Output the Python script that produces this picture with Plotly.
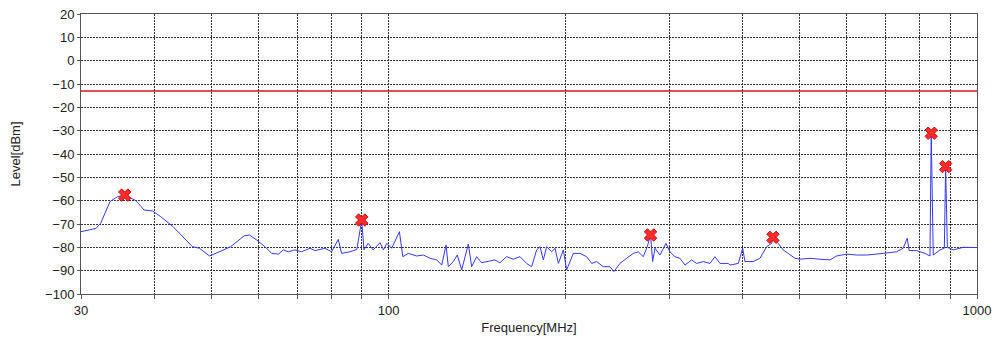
import plotly.graph_objects as go

# Spectrum trace (MHz, dBm)
freq_mhz = [30.0, 31.8, 32.4, 33.6, 34.6, 35.6, 37.2, 38.4, 39.7, 41.0, 43.0, 44.4, 46.4, 47.7, 49.6,
            51.9, 53.9, 56.8, 58.0, 59.7, 61.6, 63.3, 65.0, 66.2, 67.5, 69.3, 71.1, 73.5, 75.0, 77.9,
            80.0, 82.1, 83.2, 86.0, 88.3, 90.0, 90.8, 92.3, 94.1, 96.7, 98.0, 99.3, 101.2, 104.3, 105.7,
            108.0, 111.6, 114.6, 117.6, 120.7, 123.1, 125.2, 126.3, 128.8, 130.8, 133.1, 136.6, 138.4,
            141.1, 143.9, 147.7, 151.6, 154.6, 158.7, 162.8, 167.2, 171.6, 175.0, 178.5, 180.8, 183.2,
            185.6, 189.3, 191.8, 194.3, 198.1, 200.7, 206.0, 211.4, 217.0, 221.4, 225.7, 231.6, 237.8,
            241.5, 247.2, 253.8, 260.5, 265.6, 270.9, 275.2, 278.7, 281.0, 283.6, 289.2, 296.0, 300.7,
            306.6, 312.6, 318.9, 327.3, 333.8, 342.6, 351.7, 358.6, 365.7, 377.8, 380.4, 392.9, 399.7,
            403.3, 416.6, 427.7, 439.0, 447.7, 450.0, 459.3, 468.3, 477.6, 490.6, 500.0, 520.2, 540.9,
            562.5, 577.4, 600.3, 624.3, 649.3, 693.0, 730.0, 749.0, 761.0, 766.9, 789.5, 815.7, 831.9,
            836.0, 842.6, 865.3, 880.0, 884.5, 890.5, 911.5, 947.8, 1000.0]
level_dbm = [-73.3, -71.9, -69.7, -60.4, -58.3, -57.6, -60.0, -64.0, -64.4, -66.9, -71.1, -74.7, -79.7, -80.4, -83.7,
             -81.6, -79.7, -75.1, -74.7, -76.9, -79.7, -82.6, -82.9, -81.1, -81.9, -81.1, -81.9, -80.4, -81.4, -80.4,
             -81.9, -76.6, -82.6, -81.9, -80.9, -68.3, -81.1, -78.3, -81.1, -78.0, -81.1, -78.3, -80.4, -73.3, -84.0,
             -82.6, -83.7, -83.3, -84.7, -85.4, -87.6, -79.0, -88.3, -86.1, -83.3, -89.7, -78.6, -88.3,
             -84.0, -86.6, -86.1, -85.4, -86.6, -84.0, -85.1, -84.0, -86.9, -88.3, -81.1, -79.7, -85.4,
             -79.7, -81.9, -80.4, -86.9, -81.1, -89.7, -82.6, -82.6, -84.0, -86.9, -86.1, -88.3, -88.3,
             -90.4, -86.9, -84.7, -82.6, -81.9, -84.0, -79.7, -74.7, -86.1, -80.4, -83.3, -78.3, -81.9,
             -84.0, -84.7, -87.6, -85.4, -86.9, -86.1, -86.9, -84.0, -86.9, -86.9, -87.6, -86.9, -80.4,
             -86.1, -86.1, -84.7, -79.7, -78.3, -75.7, -78.3, -81.1, -82.6, -84.7, -85.1, -84.7, -85.1,
             -85.4, -83.7, -82.9, -83.3, -83.3, -82.6, -81.9, -80.4, -76.1, -81.4, -81.4, -82.6, -83.7,
             -31.1, -83.3, -81.1, -80.4, -45.4, -80.0, -81.1, -80.0, -80.1]

# Limit line
limit_freq = [30, 1000]
limit_level = [-13, -13]

# Peak markers
marker_freq = [35.6, 90.0, 278.7, 450.0, 836.0, 884.5]
marker_level = [-57.6, -68.3, -74.7, -75.7, -31.1, -45.4]
marker_labels = ["1", "2", "3", "4", "5", "6"]

# Axis ticks
x_tickvals = [30, 40, 50, 60, 70, 80, 90, 100, 200, 300, 400, 500, 600, 700, 800, 900, 1000]
x_ticktext = ["30", "", "", "", "", "", "", "100", "", "", "", "", "", "", "", "", "1000"]
y_tickvals = [20, 10, 0, -10, -20, -30, -40, -50, -60, -70, -80, -90, -100]

FONT = "Liberation Sans, Arial, sans-serif"

fig = go.Figure()
fig.add_trace(go.Scatter(x=limit_freq, y=limit_level, mode="lines",
                         line=dict(color="#dd1414", width=1.5), hoverinfo="skip"))
fig.add_trace(go.Scatter(x=freq_mhz, y=level_dbm, mode="lines",
                         line=dict(color="#3838f0", width=1)))
fig.add_trace(go.Scatter(x=marker_freq, y=marker_level, mode="markers",
                         marker=dict(symbol="x", size=11, color="#ff2a2a",
                                     line=dict(color="#d01010", width=1))))

for f, l, t in zip(marker_freq, marker_level, marker_labels):
    fig.add_annotation(x=f, y=l, text=t, showarrow=False, xref="x", yref="y",
                       xshift=8, yshift=-8, font=dict(size=7, color="#e03030", family=FONT))

fig.update_layout(
    width=997, height=342,
    margin=dict(l=81, r=20, t=14, b=48, autoexpand=False),
    paper_bgcolor="white", plot_bgcolor="white",
    showlegend=False,
    font=dict(family=FONT, size=13, color="#222"),
)
fig.update_xaxes(
    type="log", range=[1.4771213, 3.0],
    tickvals=x_tickvals, ticktext=x_ticktext,
    showgrid=True, gridcolor="#333333", griddash="2px,1px", gridwidth=1,
    showline=True, linecolor="#555555", linewidth=1, mirror=True,
    ticks="outside", ticklen=4, tickcolor="#555555",
    tickfont=dict(size=13, family=FONT, color="#222"),
    title=dict(text="Frequency[MHz]", font=dict(size=13, family=FONT, color="#222"), standoff=6),
    zeroline=False, automargin=False,
)
fig.update_yaxes(
    range=[-100, 20], tickvals=y_tickvals,
    showgrid=True, gridcolor="#333333", griddash="2px,1px", gridwidth=1,
    showline=True, linecolor="#555555", linewidth=1, mirror=True,
    ticks="outside", ticklen=3, tickcolor="#555555",
    tickfont=dict(size=13, family=FONT, color="#222"),
    title=dict(text="Level[dBm]", font=dict(size=13, family=FONT, color="#222"), standoff=21),
    zeroline=False, automargin=False,
)

fig.write_html("out.html", config={"displayModeBar": False},
               post_script="document.body.style.margin='0';")
